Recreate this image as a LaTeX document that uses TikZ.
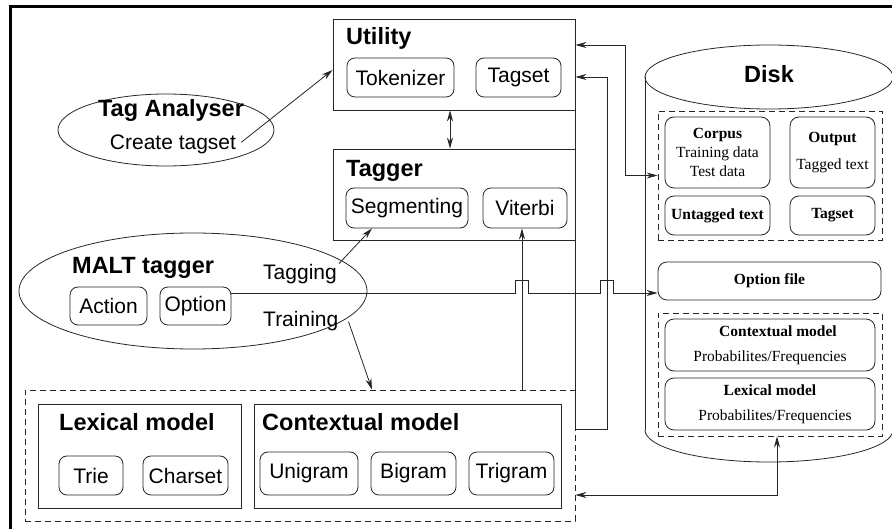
\documentclass[tikz,border=0pt]{standalone}
\usepackage{fontspec}
\setmainfont{Liberation Serif}
\setsansfont{Liberation Sans}
\usetikzlibrary{arrows.meta,shapes.geometric}

\tikzset{
  pane/.style={draw=black!85, line width=0.8pt, inner sep=0pt},
  group/.style={draw=black!85, line width=0.8pt, inner sep=0pt, dash pattern=on 6pt off 4pt},
  item/.style={draw=black!85, line width=0.8pt, rounded corners=8pt, inner sep=0pt, font=\sffamily\fontsize{21}{24}\selectfont},
  file/.style={draw=black!85, line width=0.8pt, rounded corners=9pt, inner sep=0pt, align=center, font=\fontsize{15.5}{19}\selectfont},
  head/.style={inner sep=0pt, anchor=base west, font=\sffamily\bfseries\fontsize{23.5}{26}\selectfont},
  word/.style={inner sep=0pt, anchor=base west, font=\sffamily\fontsize{21}{24}\selectfont},
  link/.style={draw=black!85, line width=0.8pt, -{Stealth[length=11pt,width=6pt]}},
  twoway/.style={draw=black!85, line width=0.8pt, {Stealth[length=11pt,width=6pt]}-{Stealth[length=11pt,width=6pt]}},
}

\begin{document}
\begin{tikzpicture}[x=1pt,y=-1pt]
			%%%%% START %%%%%
			\useasboundingbox (0,0) rectangle (892,529);
			\draw[line width=3pt] (10,7) rectangle (960,600);
			
			% utility and tagger
			\node[pane, minimum width=242pt, minimum height=91pt] (Utility) at (454,64.5) {};
			\node[head] (utilityHead) at (346,45) {Utility};
			\node[item, minimum width=107pt, minimum height=39pt] (Tokenizer) at (400.5,77.5) {Tokenizer};
			\node[item, minimum width=85pt, minimum height=39pt] (Tagset) at (518.5,77.5) {Tagset};
			
			\node[pane, minimum width=242pt, minimum height=91pt] (Tagger) at (454,194.5) {};
			\node[head] (taggerHead) at (346,177) {Tagger};
			\node[item, minimum width=122pt, minimum height=40pt] (Segmenting) at (407,208) {Segmenting};
			\node[item, minimum width=84pt, minimum height=40pt] (Viterbi) at (525,208) {Viterbi};
			
			% tag analyser
			\node[pane, ellipse, minimum width=216pt, minimum height=72pt] (Analyser) at (166,130) {};
			\node[head, anchor=base] (analyserHead) at (171,117) {Tag Analyser};
			\node[word, anchor=base] (create) at (173,150) {Create tagset};
			
			% malt tagger
			\node[pane, ellipse, minimum width=348pt, minimum height=116pt] (Malt) at (193,291) {};
			\node[head] (maltHead) at (72,274) {MALT tagger};
			\node[item, minimum width=77pt, minimum height=38pt] (Action) at (108.5,306) {Action};
			\node[item, minimum width=71pt, minimum height=38pt] (Option) at (195.5,306) {Option};
			\node[word] (tagging) at (263,280) {Tagging};
			\node[word] (training) at (263,327) {Training};
			
			% models
			\node[group, minimum width=550pt, minimum height=131pt] (models) at (300,455.5) {};
			\node[pane, minimum width=203pt, minimum height=104pt] (lexical) at (139.5,456) {};
			\node[head] (lexicalHead) at (59,430) {Lexical model};
			\node[item, minimum width=64pt, minimum height=39pt] (Trie) at (91,475.5) {Trie};
			\node[item, minimum width=85pt, minimum height=39pt] (Charset) at (185.5,475.5) {Charset};
			\node[pane, minimum width=307pt, minimum height=104pt] (contextual) at (407.5,456) {};
			\node[head] (contextualHead) at (262,430) {Contextual model};
			\node[item, minimum width=98pt, minimum height=43pt] (Unigram) at (309,473.5) {Unigram};
			\node[item, minimum width=85pt, minimum height=43pt] (Bigram) at (413.5,473.5) {Bigram};
			\node[item, minimum width=85pt, minimum height=43pt] (Trigram) at (511.5,473.5) {Trigram};
			
			% disk
			\draw[line width=0.8pt, draw=black!85] (645,77) -- (645,430);
			\draw[line width=0.8pt, draw=black!85] (893,77) -- (893,430);
			\draw[line width=0.8pt, draw=black!85] (769,77) ellipse [x radius=124, y radius=32];
			\begin{scope}
				\clip (640,430) rectangle (900,470);
				\draw[line width=0.8pt, draw=black!85] (769,430) ellipse [x radius=124, y radius=32];
			\end{scope}
			\node[head, anchor=base] (diskHead) at (769,83) {Disk};
			
			\node[group, minimum width=224pt, minimum height=129pt] (files) at (770,175.5) {};
			\node[file, minimum width=105pt, minimum height=71pt] (Corpus) at (717.5,152.5) {\textbf{Corpus}\\Training data\\Test data};
			\node[file, minimum width=85pt, minimum height=71pt] (Output) at (832.5,152.5) {\textbf{Output}\\[8pt]Tagged text};
			\node[file, minimum width=105pt, minimum height=39pt, font=\bfseries\fontsize{15.5}{19}\selectfont] (Untagged) at (717.5,215.5) {Untagged text};
			\node[file, minimum width=85pt, minimum height=39pt, font=\bfseries\fontsize{15.5}{19}\selectfont] (TagsetFile) at (832.5,215.5) {Tagset};
			\node[file, minimum width=223pt, minimum height=38pt, font=\bfseries\fontsize{15.5}{19}\selectfont] (optFile) at (769.5,281) {Option file};
			
			\node[group, minimum width=224pt, minimum height=123pt] (dmodels) at (770,374.5) {};
			\node[file, minimum width=210pt, minimum height=52pt] (ctxFile) at (770,345) {\hspace*{16pt}\textbf{Contextual model}\\[6pt]Probabilites/Frequencies};
			\node[file, minimum width=210pt, minimum height=52pt] (lexFile) at (770,404) {\textbf{Lexical model}\\[6pt]\hspace*{10pt}Probabilites/Frequencies};
			
			% connectors
			\draw[link] ([xshift=5pt,yshift=2.5pt]create.east) -- ([yshift=-5.5pt]Utility.west);
			\draw[twoway] ([xshift=-4pt]Utility.south) -- ([xshift=-4pt]Tagger.north);
			\draw[link] ([xshift=2pt,yshift=1pt]tagging.north east) -- ([xshift=-35pt]Segmenting.south);
			\draw[link] ([xshift=10pt]training.east) -- ([xshift=72pt]models.north);
			\draw[link] ([xshift=222pt]models.north) -- ([xshift=-3pt]Viterbi.south);
			\draw[link] ([yshift=13pt]Option.east) -- ++(284,0) -- ++(0,-13) -- ++(13,0) -- ++(0,13)
				-- ++(72,0) -- ++(0,-13) -- ++(13,0) -- ++(0,13) -- ([yshift=-12pt]optFile.west);
			\draw[twoway] ([yshift=19.5pt]Utility.east) -| ([xshift=-32pt]files.west) -- (files.west);
			\draw[link] (Utility.south east) |- ([xshift=32pt,yshift=-40pt]models.north east) |- ([yshift=-12.5pt]Utility.east);
			\draw[twoway] ([yshift=-39.5pt]models.east) -| ([xshift=7pt]dmodels.south);
			
			%%%%% END %%%%%
\end{tikzpicture}
\end{document}
